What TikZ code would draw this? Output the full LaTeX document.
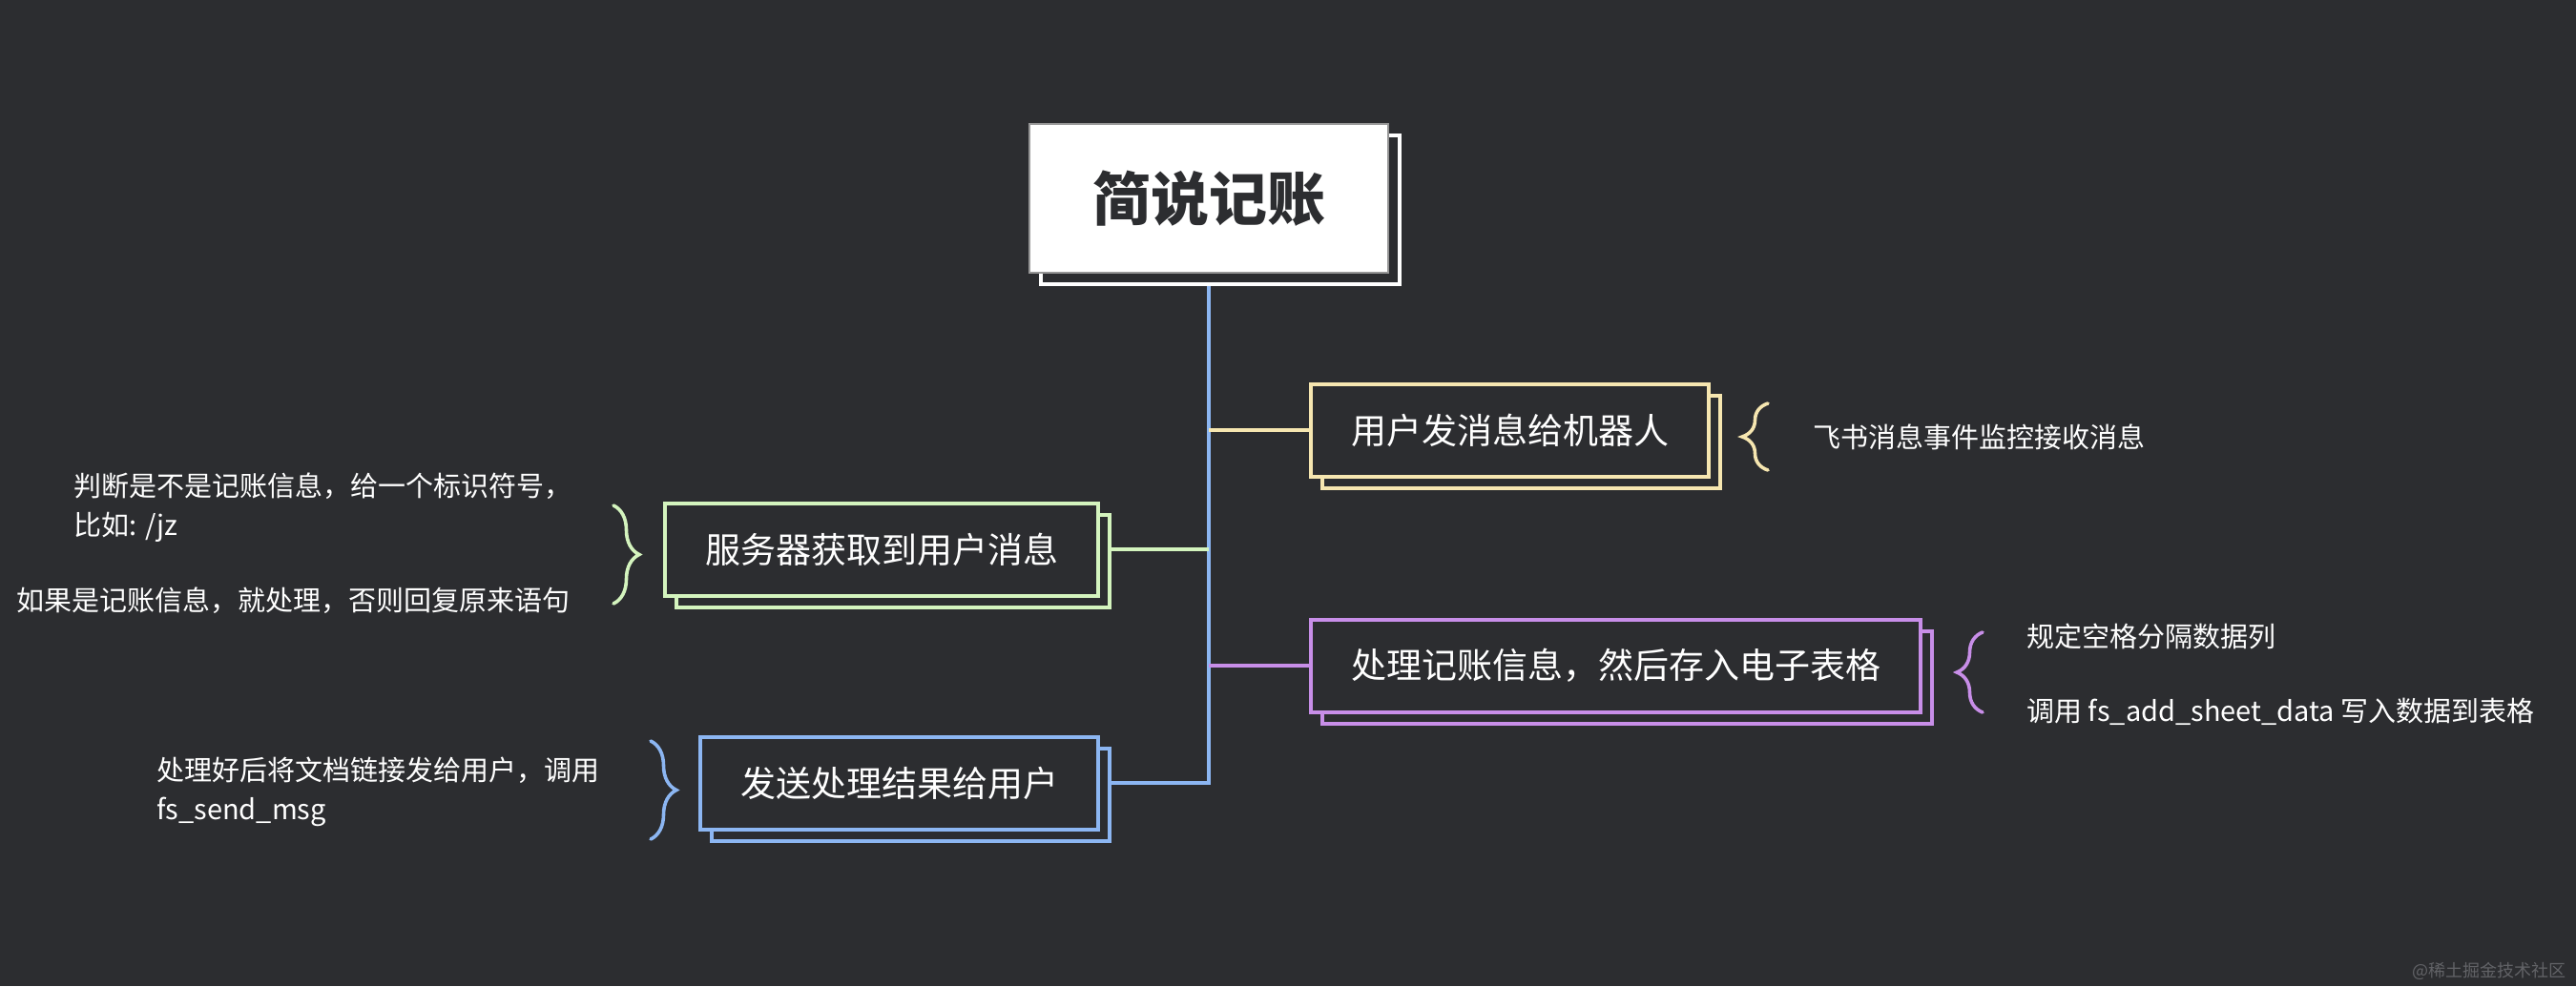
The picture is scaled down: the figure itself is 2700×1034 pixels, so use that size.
\documentclass[tikz,border=0pt]{standalone}
\usepackage{fontspec}
\setmainfont{Noto Sans CJK SC}
\usepackage{tikz}
\usetikzlibrary{
	arrows.meta,
	positioning,
	shadows,
	backgrounds,
	decorations.pathreplacing
}
\usepackage{xcolor}
\definecolor{bgdark}{RGB}{44,45,48}
\definecolor{cblue}{RGB}{140,182,242}
\definecolor{cyellow}{RGB}{246,230,176}
\definecolor{cgreen}{RGB}{212,244,190}
\definecolor{cpurple}{RGB}{200,142,232}
\definecolor{rootedge}{RGB}{150,150,150}
\definecolor{tagtext}{RGB}{98,99,103}

\tikzset{
	rootbox/.style={draw=rootedge, fill=white, line width=1pt, text=bgdark,
		inner xsep=33pt, minimum height=78pt, font=\fontsize{30.5}{36}\selectfont\bfseries,
		general shadow={shadow xshift=6pt, shadow yshift=-6pt, fill=bgdark, draw=white, line width=1.8pt}},
	topic/.style={draw=#1, fill=bgdark, line width=2pt, text=white,
		inner xsep=21pt, minimum height=48.5pt, font=\fontsize{18.5}{22}\selectfont,
		general shadow={shadow xshift=6pt, shadow yshift=-6pt, fill=bgdark, draw=#1, line width=2pt}},
	note/.style={text=white, align=left, inner sep=0pt, font=\fontsize{14.5}{20.5}\selectfont},
	sitetag/.style={text=tagtext, inner sep=0pt, font=\fontsize{9}{11}\selectfont},
	bracemark/.style={draw=#1, line width=1.8pt, line cap=round, decorate,
		decoration={brace, amplitude=13.5pt}},
	branch/.style={draw=#1, line width=2.2pt}
}

\begin{document}
\begin{tikzpicture}[x=0.5pt,y=-0.5pt]

	% canvas
	\begin{scope}[on background layer]
		\fill[bgdark] (0,0) rectangle (2700,1034);
	\end{scope}

	% root
	\node[rootbox] (jz) at (1267,208) {简说记账};

	% topics
	\node[topic=cyellow, anchor=west] (recv) at (1372,451) {用户发消息给机器人};
	\node[topic=cgreen, anchor=east] (fetch) at (1153,576) {服务器获取到用户消息};
	\node[topic=cpurple, anchor=west] (store) at (1372,698) {处理记账信息，然后存入电子表格};
	\node[topic=cblue, anchor=east] (reply) at (1153,821) {发送处理结果给用户};

	% links, kept under the boxes
	\begin{scope}[on background layer]
		\draw[branch=cblue] (jz.south) |- (reply);
		\foreach \t/\c in {recv/cyellow, fetch/cgreen, store/cpurple}
		\draw[branch=\c] (jz.south |- \t) -- (\t);
	\end{scope}

	% braces
	\draw[bracemark=cyellow] (1853,493) -- (1853,423);
	\draw[bracemark=cgreen] (643,530) -- (643,633);
	\draw[bracemark=cpurple] (2078,747) -- (2078,663);
	\draw[bracemark=cblue] (682,777) -- (682,880);

	% notes
	\node[note, anchor=west] (n1) at (1900,458) {飞书消息事件监控接收消息};
	\node[note, anchor=west] (n2a) at (77,532) {判断是不是记账信息，给一个标识符号，\\比如: /jz};
	\node[note, anchor=west] (n2b) at (17,630) {如果是记账信息，就处理，否则回复原来语句};
	\node[note, anchor=west] (n3a) at (2124,667) {规定空格分隔数据列};
	\node[note, anchor=west] (n3b) at (2124,746) {调用 fs\_add\_sheet\_data 写入数据到表格};
	\node[note, anchor=west] (n4) at (164,830) {处理好后将文档链接发给用户，调用\\fs\_send\_msg};

	% watermark
	\node[sitetag, anchor=east] (tag) at (2690,1018) {@稀土掘金技术社区};

\end{tikzpicture}
\end{document}
